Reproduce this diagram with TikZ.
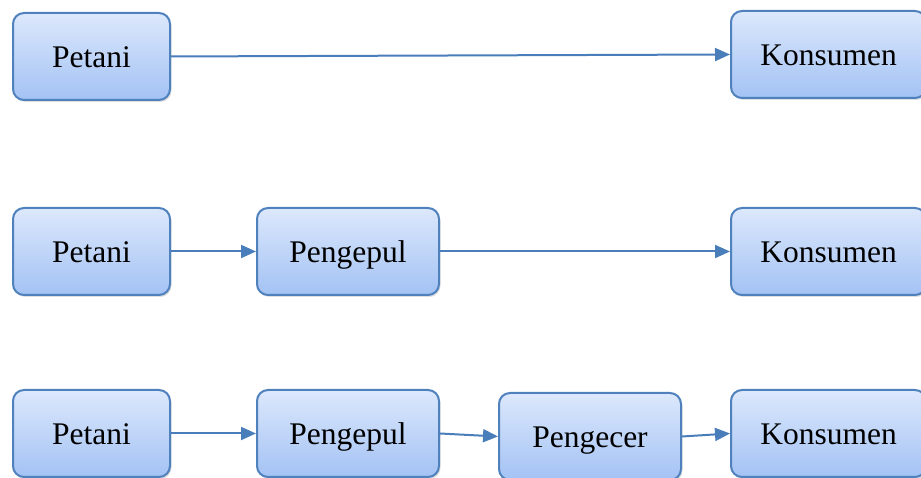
\documentclass[tikz,border=0pt]{standalone}
\usepackage{fontspec}
\setmainfont{Liberation Serif}
\usetikzlibrary{arrows.meta,shadows,positioning}

\definecolor{boxline}{RGB}{79,129,189}
\definecolor{boxtop}{RGB}{220,232,252}
\definecolor{boxbottom}{RGB}{163,194,244}
\definecolor{arrowline}{RGB}{74,126,187}

\begin{document}
\begin{tikzpicture}[
    x=1pt, y=1pt,
    box/.style={rectangle, rounded corners=11pt, draw=boxline, line width=2pt,
        top color=boxtop, bottom color=boxbottom,
        minimum height=87pt, font=\fontsize{31.5}{36}\selectfont,
        text height=24pt, text depth=1pt,
        drop shadow={shadow xshift=1.5pt, shadow yshift=-2pt, opacity=0.25}},
    small/.style={box, minimum width=157pt},
    wide/.style={box, minimum width=182pt},
    end/.style={box, minimum width=195pt},
    arrow/.style={-{Triangle[length=15pt, width=13pt]}, line width=2pt, draw=arrowline}
]
\useasboundingbox (0,0) rectangle (921,478);

% BARIS 1
\node[small] (petaniA) at (91.5, 421.5) {Petani};
\node[end] (konsumenA) at (828.5, 423.5) {Konsumen};
\draw[arrow] (petaniA.east) -- (konsumenA.west);

% BARIS 2
\node[small] (petaniB) at (91.5, 226.5) {Petani};
\node[wide] (pengepulB) at (348, 226.5) {Pengepul};
\node[end] (konsumenB) at (828.5, 226.5) {Konsumen};
\draw[arrow] (petaniB.east) -- (pengepulB.west);
\draw[arrow] (pengepulB.east) -- (konsumenB.west);

% BARIS 3
\node[small] (petaniC) at (91.5, 44.5) {Petani};
\node[wide] (pengepulC) at (348, 44.5) {Pengepul};
\node[wide] (pengecerC) at (590, 41.5) {Pengecer};
\node[end] (konsumenC) at (828.5, 44.5) {Konsumen};
\draw[arrow] (petaniC.east) -- (pengepulC.west);
\draw[arrow] (pengepulC.east) -- (pengecerC.west);
\draw[arrow] (pengecerC.east) -- (konsumenC.west);

\end{tikzpicture}
\end{document}
